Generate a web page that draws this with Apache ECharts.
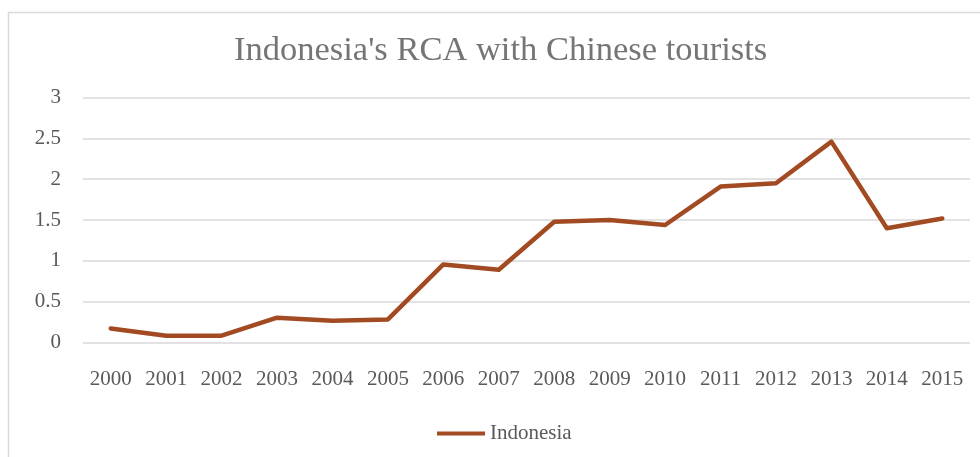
<!DOCTYPE html>
<html>
<head>
<meta charset="utf-8">
<script src="https://cdn.jsdelivr.net/npm/echarts@6/dist/echarts.min.js"></script>
<style>
html,body{margin:0;padding:0;background:#fff;}
#chart{width:980px;height:457px;}
</style>
</head>
<body>
<div id="chart"></div>
<script>
const years = ['2000','2001','2002','2003','2004','2005','2006','2007','2008','2009','2010','2011','2012','2013','2014','2015'];
const indonesia = [0.175, 0.086, 0.086, 0.306, 0.27, 0.285, 0.958, 0.893, 1.48, 1.50, 1.44, 1.91, 1.95, 2.46, 1.40, 1.52];
const titleText = "Indonesia's RCA with Chinese tourists";
const seriesName = 'Indonesia';

const chart = echarts.init(document.getElementById('chart'));
const serif = '"Liberation Serif", "Times New Roman", serif';
chart.setOption({
  backgroundColor: '#fff',
  animation: false,
  graphic: [{
    type: 'rect',
    shape: {x: 8.5, y: 12.5, width: 1000, height: 500},
    style: {fill: 'none', stroke: '#d9d9d9', lineWidth: 1.5},
    silent: true
  }],
  title: {
    text: titleText,
    left: 234,
    top: 33,
    padding: 0,
    textStyle: {fontFamily: serif, fontSize: 34.5, fontWeight: 'normal', color: '#757575'}
  },
  legend: {
    bottom: 8,
    left: 432,
    icon: 'rect',
    itemWidth: 48,
    itemHeight: 4,
    itemGap: 10,
    textStyle: {fontFamily: serif, fontSize: 21, color: '#595959'},
    data: [seriesName]
  },
  grid: {left: 83, right: 10, top: 97.5, bottom: 114.3},
  xAxis: {
    type: 'category',
    data: years,
    boundaryGap: true,
    axisLine: {show: false},
    axisTick: {show: false},
    axisLabel: {fontFamily: serif, fontSize: 21, color: '#595959', margin: 26}
  },
  yAxis: {
    type: 'value',
    min: 0, max: 3, interval: 0.5,
    axisLine: {show: false},
    axisTick: {show: false},
    splitLine: {lineStyle: {color: '#d9d9d9', width: 1.5}},
    axisLabel: {fontFamily: serif, fontSize: 21, color: '#595959', margin: 22}
  },
  series: [{
    name: seriesName,
    type: 'line',
    data: indonesia,
    symbol: 'none',
    lineStyle: {color: '#A24A22', width: 4.5, cap: 'round', join: 'round'},
    itemStyle: {color: '#A24A22'}
  }]
});
</script>
</body>
</html>
